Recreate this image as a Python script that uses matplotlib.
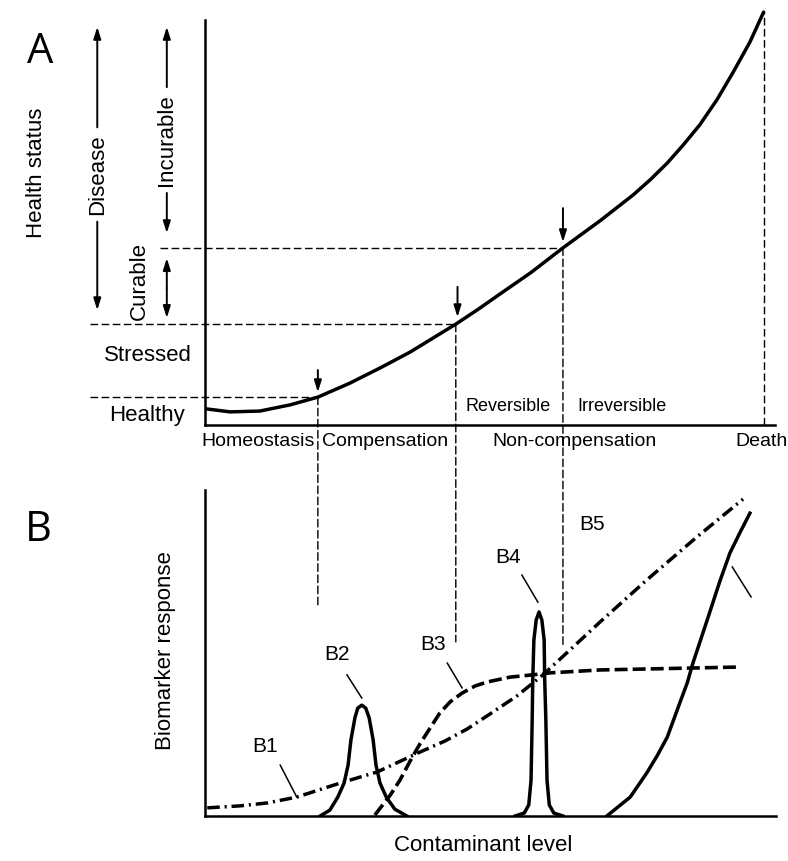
import matplotlib.pyplot as plt
from matplotlib.patches import ConnectionPatch

plt.rcParams['font.family'] = ['Liberation Sans', 'DejaVu Sans']

# ---- panel A : health status vs contaminant level ----
health_x = [0.4, 4.4, 9.6, 14.9, 19.8, 25.4, 30.7, 36.0, 44.0, 47.9, 51.8, 57.2,
            62.8, 69.3, 75.1, 78.1, 81.1, 83.9, 86.8, 89.8, 92.6, 95.6, 98.0]
health_y = [3.9, 3.2, 3.4, 4.9, 6.8, 10.2, 13.9, 17.8, 24.6, 28.2, 32.0, 37.2,
            43.2, 49.8, 56.1, 59.8, 63.9, 68.3, 73.2, 79.3, 85.9, 93.4, 100.7]

# contaminant level where each stage ends, and matching health level
stage_x = [19.8, 44.0, 62.8, 98.0]
stage_y = [6.8, 24.6, 43.2, 100.7]
stage_names = ['Homeostasis', 'Compensation', 'Non-compensation', 'Death']
stage_label_x = [9.3, 31.6, 64.9, 97.6]

# ---- panel B : biomarker responses ----
b1_x = [0.4, 6.1, 10.9, 16.1, 23.7, 30.2, 37.7, 42.1, 46.0, 50.0, 54.7, 59.3,
        64.0, 69.3, 77.5, 86.3, 94.4]
b1_y = [2.5, 3.1, 4.0, 5.8, 10.1, 13.5, 19.6, 23.0, 26.7, 31.3, 36.8, 43.3,
        50.9, 59.5, 72.4, 85.6, 97.2]

b2_x = [20.2, 21.9, 23.3, 24.4, 25.1, 25.6, 26.3, 26.8, 27.5, 28.2, 28.8,
        29.5, 30.0, 30.7, 31.8, 33.3, 35.4]
b2_y = [0, 1.8, 5.8, 10.1, 15.6, 23.3, 30.1, 33.1, 34.0, 33.1, 30.1, 23.3,
        15.6, 10.1, 5.8, 2.1, 0]

b3_x = [29.8, 32.5, 34.2, 36.0, 37.7, 39.5, 41.2, 43.0, 45.1, 47.4, 49.5,
        53.5, 57.5, 60.5, 69.3, 77.5, 93.9]
b3_y = [0.3, 6.4, 11.0, 16.9, 22.1, 27.0, 31.6, 35.0, 37.7, 39.9, 41.1,
        42.6, 43.3, 43.9, 44.8, 45.1, 45.7]

b4_x = [54.4, 56.0, 56.8, 57.2, 57.4, 57.5, 57.7, 58.1, 58.6, 59.1, 59.5,
        59.6, 59.8, 60.0, 60.4, 61.2, 62.8]
b4_y = [0, 0.9, 3.4, 11.0, 29.4, 41.7, 54.0, 60.1, 62.6, 60.1, 54.0, 41.7,
        29.4, 11.0, 3.4, 0.9, 0]

b5_x = [70.5, 74.6, 77.5, 79.3, 81.1, 83.3, 84.6, 85.6, 88.1, 90.4, 92.1, 93.9, 95.6]
b5_y = [0, 5.8, 13.2, 18.4, 24.2, 34.7, 40.8, 46.9, 60.1, 72.4, 80.7, 87.1, 92.9]

# where the stage dashes stop inside panel B
stage_drop_y = [63.8, 53.4, 51.8]

b_labels = ['B1', 'B2', 'B3', 'B4', 'B5']
b_label_pos = [(10.5, 21.2), (23.2, 49.4), (40.0, 52.5), (53.2, 79.4), (67.9, 89.3)]
b_leaders = [((13.2, 15.6), (16.1, 5.8)), ((24.9, 43.3), (27.5, 36.2)),
             ((42.5, 46.9), (45.1, 39.3)), ((55.6, 73.9), (58.4, 65.6)),
             ((92.5, 76.4), (95.8, 67.2))]

W, H = 788, 861
def box(left, right, top, bottom):
    return [left / W, 1 - bottom / H, (right - left) / W, (bottom - top) / H]

fig = plt.figure(figsize=(W / 100, H / 100), dpi=100)
axA = fig.add_axes(box(205, 788, 5, 425))
axB = fig.add_axes(box(205, 788, 470, 816))
axA.set_xlim(0, 583 / 5.7)
axA.set_ylim(0, 420 / 4.1)
axB.set_xlim(0, 583 / 5.7)
axB.set_ylim(0, 346 / 3.26)

for ax in (axA, axB):
    for s in ('top', 'right'):
        ax.spines[s].set_visible(False)
    for s in ('bottom', 'left'):
        ax.spines[s].set_linewidth(1.8)
    ax.set_xticks([])
    ax.set_yticks([])
    ax.patch.set_alpha(0)
axA.spines['bottom'].set_bounds(0, 100)
axA.spines['left'].set_bounds(0, 98.8)
axB.spines['bottom'].set_bounds(0, 100.2)
axB.spines['left'].set_bounds(0, 100)

dash = (0, (5.5, 2.5))
axA.plot(health_x, health_y, color='black', lw=2.5, solid_capstyle='round',
         solid_joinstyle='round')

# horizontal thresholds going left
for y, x0, x1 in [(stage_y[0], -20.2, stage_x[0]), (stage_y[1], -20.2, stage_x[1]),
                  (stage_y[2], -7.9, stage_x[2])]:
    axA.plot([x0, x1], [y, y], color='black', lw=1.0, ls=dash, clip_on=False)

# death line
axA.plot([stage_x[3], stage_x[3]], [0, stage_y[3]], color='black', lw=1.0, ls=dash)

# stage dashes running down into panel B
for x, ya, yb in zip(stage_x[:3], stage_y[:3], stage_drop_y):
    con = ConnectionPatch(xyA=(x, ya), coordsA=axA.transData,
                          xyB=(x, yb), coordsB=axB.transData,
                          color='black', lw=1.0, ls=dash)
    fig.add_artist(con)

# arrows pointing at thresholds on curve
arr = dict(arrowstyle='-|>,head_length=0.7,head_width=0.22', color='black', lw=1.4,
           shrinkA=0, shrinkB=0)
for x, y0, y1 in [(19.8, 13.4, 8.0), (44.3, 33.7, 26.3), (62.8, 52.9, 44.6)]:
    axA.annotate('', xy=(x, y1), xytext=(x, y0), arrowprops=arr, annotation_clip=False)

# left side arrows
for x, y0, y1 in [(-18.9, 72.6, 97.1), (-18.9, 49.6, 28.0),
                  (-6.7, 82.4, 97.1), (-6.7, 56.6, 46.8),
                  (-6.7, 33.4, 40.7), (-6.7, 33.4, 26.1)]:
    axA.annotate('', xy=(x, y1), xytext=(x, y0), arrowprops=arr, annotation_clip=False)

txt = dict(ha='center', va='center', color='black')
axA.text(-18.9, 61.1, 'Disease', rotation=90, fontsize=16, **txt)
axA.text(-6.7, 69.5, 'Incurable', rotation=90, fontsize=16, **txt)
axA.text(-11.6, 35.2, 'Curable', rotation=90, fontsize=16, **txt)
axA.text(-29.6, 61.5, 'Health status', rotation=90, fontsize=16, **txt)
axA.text(-10.0, 16.9, 'Stressed', fontsize=16, **txt)
axA.text(-10.2, 2.2, 'Healthy', fontsize=16, **txt)
axA.text(53.2, 4.4, 'Reversible', fontsize=13, **txt)
axA.text(73.2, 4.4, 'Irreversible', fontsize=13, **txt)
for name, x in zip(stage_names, stage_label_x):
    axA.text(x, -4.0, name, fontsize=14, **txt)
axA.text(-28.9, 91.0, 'A', fontsize=30, family='Open Sans', **txt)

# panel B curves
axB.plot(b1_x, b1_y, color='black', lw=2.5, ls=(0, (3.6, 1.4, 0.6, 1.4)))
axB.plot(b2_x, b2_y, color='black', lw=2.5, solid_joinstyle='round')
axB.plot(b3_x, b3_y, color='black', lw=2.6, ls=(0, (3.6, 1.4)))
axB.plot(b4_x, b4_y, color='black', lw=2.5, solid_joinstyle='round')
axB.plot(b5_x, b5_y, color='black', lw=2.5, solid_joinstyle='round')

for lab, (lx, ly), (p0, p1) in zip(b_labels, b_label_pos, b_leaders):
    axB.text(lx, ly, lab, fontsize=15, **txt)
    axB.plot([p0[0], p1[0]], [p0[1], p1[1]], color='black', lw=1.1)

axB.text(-7.0, 50.6, 'Biomarker response', rotation=90, fontsize=16, **txt)
axB.text(48.8, -9.2, 'Contaminant level', fontsize=16, **txt)
axB.text(-29.3, 87.7, 'B', fontsize=30, family='Open Sans', **txt)

fig.savefig('out.png', dpi=100)
